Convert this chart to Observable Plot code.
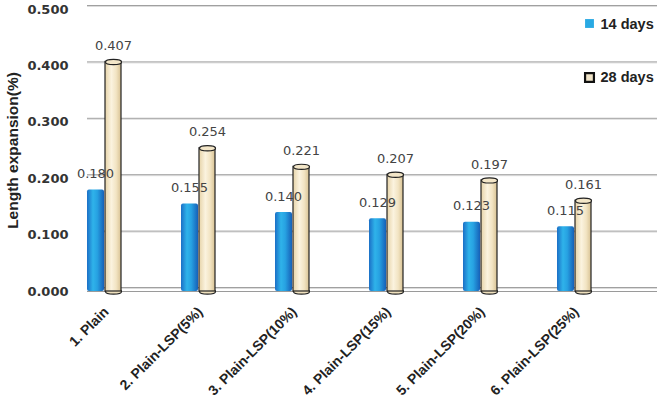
<!DOCTYPE html>
<html><head><meta charset="utf-8">
<script src="https://cdn.jsdelivr.net/npm/d3@7"></script>
<script src="https://cdn.jsdelivr.net/npm/@observablehq/plot@0.6"></script>
<style>body{margin:0;background:#fff;overflow:hidden}</style>
</head><body><div id="chart"></div>
<script>
const categories = ["1. Plain", "2. Plain-LSP(5%)", "3. Plain-LSP(10%)", "4. Plain-LSP(15%)", "5. Plain-LSP(20%)", "6. Plain-LSP(25%)"];
const days14 = [0.180, 0.155, 0.140, 0.129, 0.123, 0.115];
const days28 = [0.407, 0.254, 0.221, 0.207, 0.197, 0.161];
const seriesNames = ["14 days", "28 days"];
const yTicks = [0, 0.1, 0.2, 0.3, 0.4, 0.5];
const yTitle = "Length expansion(%)";

const rows14 = categories.map((c, i) => ({category: c, value: days14[i]}));
const rows28 = categories.map((c, i) => ({category: c, value: days28[i]}));
const fmt = d3.format(".3f");

const ellipse = (rx, ry) => ({
  draw(ctx) {
    const k = 0.5523;
    ctx.moveTo(rx, 0);
    ctx.bezierCurveTo(rx, ry * k, rx * k, ry, 0, ry);
    ctx.bezierCurveTo(-rx * k, ry, -rx, ry * k, -rx, 0);
    ctx.bezierCurveTo(-rx, -ry * k, -rx * k, -ry, 0, -ry);
    ctx.bezierCurveTo(rx * k, -ry, rx, -ry * k, rx, 0);
    ctx.closePath();
  }
});

const chart = Plot.plot({
  width: 657,
  height: 406,
  marginLeft: 87,
  marginRight: 0,
  marginTop: 9,
  marginBottom: 115,
  style: {fontFamily: "DejaVu Sans", background: "#fff"},
  x: {domain: categories, range: [56, 622], padding: 0},
  y: {domain: [0, 0.5]},
  marks: [
    Plot.ruleY(yTicks, {stroke: "#dcdcdc", strokeWidth: 1, dy: -3}),
    Plot.ruleY(yTicks, {stroke: "#a0a0a0", strokeWidth: 1, dy: -4}),
    Plot.ruleY([0], {stroke: "#9a9a9a", strokeWidth: 1}),
    Plot.axisY({ticks: [], tickSize: 0, line: true, stroke: "#a0a0a0", label: null, dy: -4}),
    Plot.axisY({ticks: yTicks, tickSize: 0, tickPadding: 19, tickFormat: fmt, label: null,
      fontSize: 13, fontWeight: "bold", fill: "#333"}),
    Plot.axisX({tickSize: 0, tickRotate: -45, tickPadding: 18, dx: 2, label: null,
      fontSize: 14, fontWeight: "bold", fill: "#222", fontFamily: "Liberation Sans"}),
    Plot.barY(rows14, {x: "category", y: "value", fill: "url(#blueGrad)", insetLeft: 30, insetRight: 47, rx: 2}),
    Plot.dot(rows28, {x: "category", y: () => 0, dx: 9, symbol: ellipse(8, 2.6), fill: "#efe0bd", stroke: "#222", strokeWidth: 1.2}),
    Plot.barY(rows28, {x: "category", y: "value", fill: "url(#creamGrad)", stroke: "#222", strokeWidth: 1.2, insetLeft: 48, insetRight: 30}),
    Plot.dot(rows28, {x: "category", y: "value", dx: 9, symbol: ellipse(8, 2.6), fill: "#f3e6c8", stroke: "#222", strokeWidth: 1.2}),
    Plot.text(rows14, {x: "category", y: "value", text: d => fmt(d.value), dx: -9, dy: -16, fontSize: 13, fill: "#444"}),
    Plot.text(rows28, {x: "category", y: "value", text: d => fmt(d.value), dx: 9, dy: -16, fontSize: 13, fill: "#444"}),
    Plot.text([yTitle], {frameAnchor: "left", textAnchor: "middle", lineAnchor: "middle", dx: -74, rotate: -90, fontSize: 15.5, fontWeight: "bold", fill: "#222", fontFamily: "Liberation Sans"}),
    Plot.dot([seriesNames[0]], {frameAnchor: "top-right", dx: -68, dy: 14, symbol: "square", r: 5, fill: "#29a9e3"}),
    Plot.text([seriesNames[0]], {frameAnchor: "top-right", dx: -57, dy: 15, textAnchor: "start", lineAnchor: "middle", fontSize: 14.5, fontWeight: "bold", fill: "#222", fontFamily: "Liberation Sans"}),
    Plot.dot([seriesNames[1]], {frameAnchor: "top-right", dx: -68, dy: 68, symbol: "square", r: 5, fill: "#f0e4c8", stroke: "#111", strokeWidth: 2.2}),
    Plot.text([seriesNames[1]], {frameAnchor: "top-right", dx: -57, dy: 68, textAnchor: "start", lineAnchor: "middle", fontSize: 14.5, fontWeight: "bold", fill: "#222", fontFamily: "Liberation Sans"})
  ]
});

const svg = d3.select(chart);
const defs = svg.insert("defs", ":first-child");
const bg = defs.append("linearGradient").attr("id", "blueGrad").attr("x1", 0).attr("x2", 1).attr("y1", 0).attr("y2", 0);
[["0%", "#1b6fc6"], ["35%", "#2fb3ea"], ["60%", "#27a2e2"], ["100%", "#1660b8"]].forEach(([o, c]) => bg.append("stop").attr("offset", o).attr("stop-color", c));
const cg = defs.append("linearGradient").attr("id", "creamGrad").attr("x1", 0).attr("x2", 1).attr("y1", 0).attr("y2", 0);
[["0%", "#e6d3a8"], ["40%", "#fbf3df"], ["70%", "#f2e4c3"], ["100%", "#d8c293"]].forEach(([o, c]) => cg.append("stop").attr("offset", o).attr("stop-color", c));
document.getElementById("chart").appendChild(chart);
</script>
</body></html>
